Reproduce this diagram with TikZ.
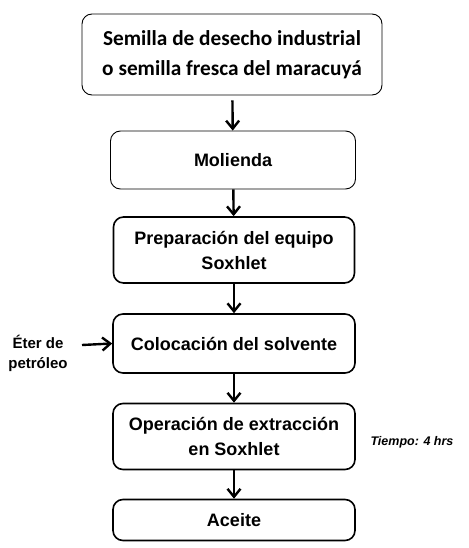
\documentclass[tikz,border=0pt]{standalone}
\usepackage{fontspec}
\setmainfont{Liberation Sans}
\newfontfamily\calibrifont{Carlito}
\usetikzlibrary{arrows.meta}

\begin{document}
\begin{tikzpicture}[x=1pt,y=-1pt]
\useasboundingbox (0,0) rectangle (468,548);
\begin{scope}[every node/.style={rectangle,rounded corners=10pt,draw,line width=1.6pt,
              align=center,font=\bfseries\fontsize{18}{25}\selectfont,inner sep=0pt}]
    \node[line width=0.9pt,minimum width=300pt,minimum height=81pt,
          font=\calibrifont\bfseries\fontsize{21.3}{30}\selectfont] (v1) at (232,54.5)
          {Semilla de desecho industrial\\o semilla fresca del maracuyá};
    \node[line width=0.9pt,minimum width=245pt,minimum height=58pt] (v2) at (233,160) {Molienda};
    \node[minimum width=241pt,minimum height=66pt] (v3) at (234,250) {Preparación del equipo\\Soxhlet};
    \node[minimum width=242pt,minimum height=59pt] (v4) at (234,343.5) {Colocación del solvente};
    \node[minimum width=242pt,minimum height=66pt] (v5) at (234,436.5) {Operación de extracción\\en Soxhlet};
    \node[minimum width=242pt,minimum height=41pt] (v6) at (234,520) {Aceite};
\end{scope}
\node[align=center,font=\bfseries\fontsize{15}{20}\selectfont] (v7) at (38,353) {Éter de\\petróleo};
\node[font=\bfseries\itshape\fontsize{12.5}{14}\selectfont] (v8) at (412,442) {Tiempo: 4 hrs};
\coordinate (c1) at (82,345);
\begin{scope}[every edge/.style={draw=black,line width=2.4pt,-{Straight Barb[length=8pt,width=13pt]}}]
    \path (v1) edge[shorten <=5pt] (v2);
    \path (v2) edge (v3);
    \path (v3) edge (v4);
    \path (v4) edge (v5);
    \path (v5) edge (v6);
    \path (c1) edge (v4.west);
\end{scope}
\end{tikzpicture}
\end{document}
